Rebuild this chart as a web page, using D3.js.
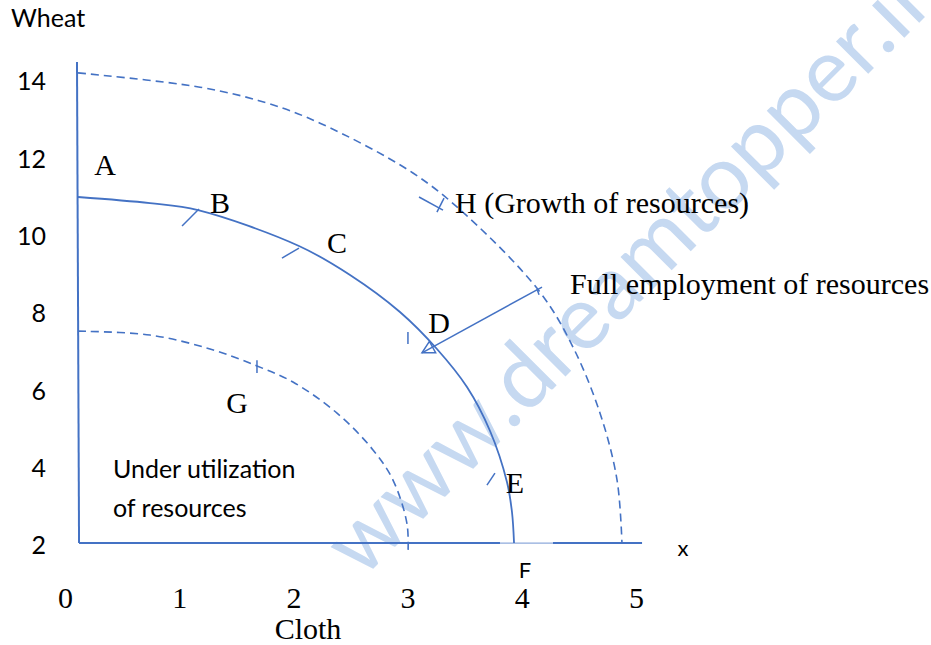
<!DOCTYPE html>
<html>
<head>
<meta charset="utf-8">
<script src="https://cdn.jsdelivr.net/npm/d3@7"></script>
<style>
  body { margin: 0; background: #fff; }
  svg { display: block; }
</style>
</head>
<body>
<svg id="chart"></svg>
<script>
// tick labels
const clothTicks = [0, 1, 2, 3, 4, 5]
const wheatTicks = [2, 4, 6, 8, 10, 12, 14]

// production possibility curves, [cloth, wheat]
const ppfFull = [[0.114, 11.0], [0.744, 10.84], [1.165, 10.66], [2.049, 9.733], [2.496, 8.983],
  [2.933, 8.026], [3.257, 7.069], [3.52, 6.086], [3.722, 4.948], [3.87, 3.629], [3.914, 2.853], [3.932, 2.05]]
const ppfUnder = [[0.114, 7.53], [0.744, 7.43], [1.27, 7.07], [1.681, 6.63], [1.996, 6.215],
  [2.382, 5.41], [2.697, 4.46], [2.872, 3.68], [2.995, 2.543], [3.003, 1.74]]
const ppfGrowth = [[0.114, 14.21], [1.182, 13.84], [1.769, 13.43], [2.233, 12.91], [3.047, 11.62],
  [3.52, 10.51], [4.159, 8.54], [4.448, 7.12], [4.685, 5.41], [4.834, 3.68], [4.877, 2.05]]

// little marks on the curves
const pointMarks = [
  [[1.025, 10.25], [1.173, 10.69]],   // B
  [[1.900, 9.42], [2.049, 9.68]],     // C
  [[1.681, 6.78], [1.681, 6.45]],     // G
  [[3.003, 7.51], [3.003, 7.20]],     // D
  [[3.695, 3.55], [3.765, 3.86]],     // E
  [[3.100, 11.0], [3.310, 10.66]],    // H
  [[3.257, 10.61], [3.319, 10.97]],
  [[4.133, 8.62], [4.151, 8.47]]      // arrow tail
]
const arrowFull = [[4.177, 8.67], [3.126, 6.97]]

// axis lines
const yAxisLine = [[0.105, 14.49], [0.123, 2.05]]
const xAxisParts = [[[0.123, 2.05], [3.809, 2.05]], [[4.273, 2.05], [5.053, 2.05]]]
const xAxisGap = [[3.809, 2.05], [4.273, 2.05]]

// point labels
const letters = ["A", "B", "C", "D", "E", "G"]
const letterAt = [[0.35, 11.57], [1.357, 10.59], [2.382, 9.55], [3.275, 7.48], [3.94, 3.34], [1.506, 5.41]]
const notes = ["H (Growth of resources)", "Full employment of resources"]
const noteAt = [[3.415, 10.59], [4.422, 8.49]]
const underText = ["Under utilization", "of resources"]
const underAt = [[0.42, 3.73], [0.42, 2.72]]

const width = 931, height = 645
const blue = "#4472c4"
const serif = "'Liberation Serif', 'Times New Roman', serif"
const sans = "Lato, 'Open Sans', sans-serif"

const svg = d3.select("#chart")
    .attr("width", width)
    .attr("height", height)

const x = d3.scaleLinear().domain([0, 5]).range([65, 636])
const y = d3.scaleLinear().domain([2, 14]).range([545, 81])

// watermark
svg.append("text")
    .attr("transform", "translate(656,286) rotate(-45)")
    .attr("text-anchor", "middle")
    .attr("font-family", "Lato, sans-serif")
    .attr("font-size", 90)
    .attr("fill", "#c6d9f1")
    .text("www.dreamtopper.in")

const line = d3.line().x(d => x(d[0])).y(d => y(d[1]))
const curve = d3.line().x(d => x(d[0])).y(d => y(d[1])).curve(d3.curveCatmullRom.alpha(0.5))

// axes
svg.append("path").attr("d", line(yAxisLine))
    .attr("stroke", blue).attr("stroke-width", 2).attr("fill", "none")
svg.selectAll(".xpart").data(xAxisParts).join("path")
    .attr("d", line)
    .attr("stroke", blue).attr("stroke-width", 2).attr("fill", "none")
svg.append("path").attr("d", line(xAxisGap))
    .attr("stroke", "#8eaadb").attr("stroke-width", 1.2).attr("fill", "none")

// curves
svg.append("path").attr("d", curve(ppfFull))
    .attr("stroke", blue).attr("stroke-width", 1.8).attr("fill", "none")
svg.selectAll(".dashed").data([ppfUnder, ppfGrowth]).join("path")
    .attr("d", curve)
    .attr("stroke", blue).attr("stroke-width", 1.6)
    .attr("stroke-dasharray", "8,5").attr("fill", "none")

svg.selectAll(".mark").data(pointMarks).join("path")
    .attr("d", line)
    .attr("stroke", blue).attr("stroke-width", 1.5).attr("fill", "none")

// arrow with open head
svg.append("defs").append("marker")
    .attr("id", "head")
    .attr("viewBox", "-2 -9 16 18")
    .attr("markerUnits", "userSpaceOnUse")
    .attr("markerWidth", 16).attr("markerHeight", 18)
    .attr("refX", 12).attr("refY", 0)
    .attr("orient", "auto")
  .append("path")
    .attr("d", "M0,-6.5L12,0L0,6.5Z")
    .attr("fill", "none").attr("stroke", blue).attr("stroke-width", 1.5)

svg.append("path").attr("d", line(arrowFull))
    .attr("stroke", blue).attr("stroke-width", 1.5).attr("fill", "none")
    .attr("marker-end", "url(#head)")

// tick labels
const xAxis = svg.append("g")
    .attr("transform", "translate(0,608)")
    .call(d3.axisBottom(x).tickValues(clothTicks).tickSize(0).tickFormat(d3.format("d")))
xAxis.select(".domain").remove()
xAxis.selectAll("text").attr("y", 0).attr("dy", 0)
    .attr("font-family", serif).attr("font-size", 30).attr("fill", "#000")

const yAxis = svg.append("g")
    .attr("transform", "translate(46,0)")
    .call(d3.axisLeft(y).tickValues(wheatTicks).tickSize(0))
yAxis.select(".domain").remove()
yAxis.selectAll("text").attr("x", 0).attr("dy", "0.35em")
    .attr("font-family", sans).attr("font-size", 25).attr("fill", "#000")

// axis titles
svg.append("text").attr("x", 11).attr("y", 27)
    .attr("font-family", sans).attr("font-size", 25).text("Wheat")
svg.append("text").attr("x", 308).attr("y", 639).attr("text-anchor", "middle")
    .attr("font-family", serif).attr("font-size", 30).text("Cloth")
svg.append("text").attr("x", 683).attr("y", 556).attr("text-anchor", "middle")
    .attr("font-family", sans).attr("font-size", 22).text("x")
svg.append("text").attr("x", 525).attr("y", 578).attr("text-anchor", "middle")
    .attr("font-family", sans).attr("font-size", 22).text("F")

// labels on the chart
svg.selectAll(".letter").data(letters).join("text")
    .attr("x", (d, i) => x(letterAt[i][0]))
    .attr("y", (d, i) => y(letterAt[i][1]))
    .attr("text-anchor", "middle")
    .attr("font-family", serif).attr("font-size", 30)
    .text(d => d)

svg.selectAll(".note").data(notes).join("text")
    .attr("x", (d, i) => x(noteAt[i][0]))
    .attr("y", (d, i) => y(noteAt[i][1]))
    .attr("font-family", serif).attr("font-size", 30)
    .text(d => d)

svg.selectAll(".under").data(underText).join("text")
    .attr("x", (d, i) => x(underAt[i][0]))
    .attr("y", (d, i) => y(underAt[i][1]))
    .attr("font-family", sans).attr("font-size", 25)
    .text(d => d)
</script>
</body>
</html>
